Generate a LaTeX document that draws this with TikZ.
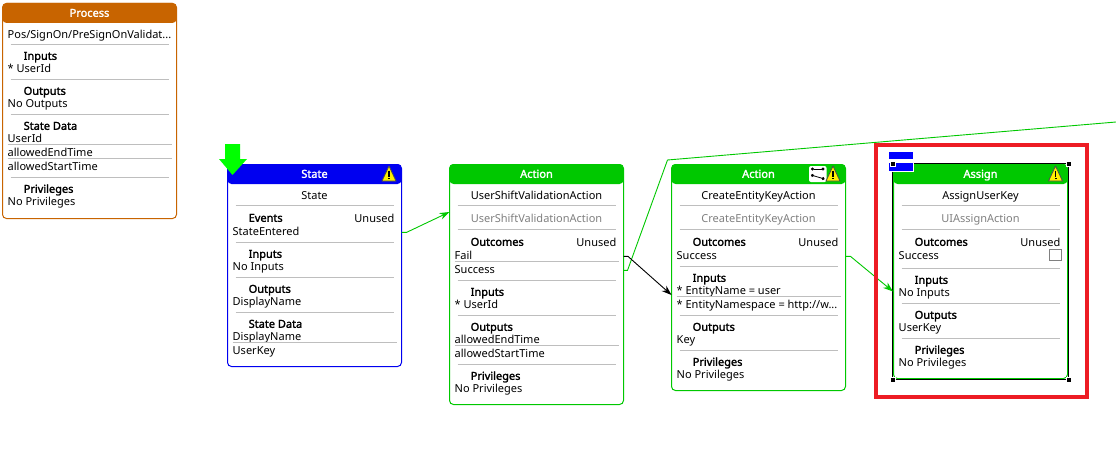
\documentclass[tikz,border=0pt]{standalone}
\usepackage{fontspec}
\setmainfont{Noto Sans}[BoldFont={Noto Sans},BoldFeatures={FakeBold=2}]
\usetikzlibrary{arrows.meta,positioning}
\definecolor{procorange}{RGB}{200,100,0}
\definecolor{stateblue}{RGB}{0,0,240}
\definecolor{actgreen}{RGB}{0,200,0}
\definecolor{rowgrey}{RGB}{190,190,190}
\definecolor{warnyellow}{RGB}{255,240,0}
\definecolor{markred}{RGB}{237,28,36}
\tikzset{
  rowtext/.style={anchor=west,inner sep=0pt,yshift=-1.4pt,font=\fontsize{11}{12}\selectfont,text height=8pt,text depth=2pt},
  boldtext/.style={rowtext,yshift=0.6pt,font=\fontsize{11}{12}\selectfont\bfseries},
  midtext/.style={rowtext,anchor=center},
  righttext/.style={rowtext,anchor=east},
  greytext/.style={midtext,text=gray},
  titletext/.style={midtext,yshift=0.6pt,text=white,font=\fontsize{11}{12}\selectfont\bfseries},
  rowline/.style={rowgrey,line width=1pt},
  cardframe/.style={draw,line width=1pt,rounded corners=4pt,inner sep=0pt,outer sep=0pt,anchor=north west,minimum width=174pt},
  flow/.style={line width=0.9pt,-{Stealth[length=10pt,width=7pt]}},
  warnmark/.pic={
    \fill[warnyellow,draw=black!70,line width=0.8pt,line join=round] (-7,7) -- (0,-8) -- (7,7) -- cycle;
    \draw[black,line width=1.6pt] (0,-3.5) -- (0,2.5);
    \fill[black] (-1,3.5) rectangle (1,5.4);
  }
}
% one card: name, colour, top, bottom, title
\newcommand{\cardbox}[5]{%
  \fill[#2,rounded corners=4pt] (0,#3+20) -- (0,#3) -- (174,#3) -- (174,#3+20) -- cycle;
  \node[cardframe,draw=#2,minimum height=#4pt-#3pt] (#1Box) at (0,#3+0.5) {};
  \node[titletext] (#1Title) at (87,#3+10) {#5};
}
\begin{document}
\begin{tikzpicture}[x=1pt,y=-1pt]
\useasboundingbox[fill=white] (0,0) rectangle (1116,452);

% process
\begin{scope}[xshift=2.5pt]
\cardbox{proc}{procorange}{3}{218}{Process}
\node[rowtext] (procName) at (5,34) {Pos/SignOn/PreSignOnValidat...};
\node[boldtext] (procInHead) at (21,56) {Inputs};
\node[rowtext] (procIn) at (5,68) {* UserId};
\node[boldtext] (procOutHead) at (21,91) {Outputs};
\node[rowtext] (procOut) at (5,103) {No Outputs};
\node[boldtext] (procDataHead) at (21,126) {State Data};
\node[rowtext] (procDataA) at (5,138) {UserId};
\node[rowtext] (procDataB) at (5,152) {allowedEndTime};
\node[rowtext] (procDataC) at (5,166) {allowedStartTime};
\node[boldtext] (procPrivHead) at (21,189) {Privileges};
\node[rowtext] (procPriv) at (5,201) {No Privileges};
\foreach \y in {44.5,79.5,114.5,177.5} \draw[rowline] (8,\y) -- (166,\y);
\foreach \y in {144.5,158.5} \draw[rowline] (5,\y) -- (169,\y);
\end{scope}

% state
\begin{scope}[xshift=227.5pt]
\cardbox{state}{stateblue}{164}{366}{State}
\pic at (161.5,174) {warnmark};
\node[midtext] (stateName) at (87,195) {State};
\node[boldtext] (stateEvHead) at (21,218) {Events};
\node[righttext] (stateUnused) at (167,218) {Unused};
\node[rowtext] (stateEntered) at (5,231) {StateEntered};
\node[boldtext] (stateInHead) at (21,254) {Inputs};
\node[rowtext] (stateIn) at (5,266) {No Inputs};
\node[boldtext] (stateOutHead) at (21,289) {Outputs};
\node[rowtext] (stateOut) at (5,301) {DisplayName};
\node[boldtext] (stateDataHead) at (21,324) {State Data};
\node[rowtext] (stateDataA) at (5,336) {DisplayName};
\node[rowtext] (stateDataB) at (5,350) {UserKey};
\foreach \y in {205.5,242.5,277.5,312.5} \draw[rowline] (8,\y) -- (166,\y);
\draw[rowline] (5,342.5) -- (169,342.5);
\end{scope}
\fill[green] (225,144) -- (240,144) -- (240,159) -- (247,159) -- (232.5,175) -- (219,159) -- (225,159) -- cycle;

% first action
\begin{scope}[xshift=449.5pt]
\cardbox{check}{actgreen}{164}{404}{Action}
\node[midtext] (checkName) at (87,195) {UserShiftValidationAction};
\node[greytext] (checkType) at (87,218) {UserShiftValidationAction};
\node[boldtext] (checkOcHead) at (21,242) {Outcomes};
\node[righttext] (checkUnused) at (167,242) {Unused};
\node[rowtext] (checkFail) at (5,255) {Fail};
\node[rowtext] (checkOk) at (5,269) {Success};
\node[boldtext] (checkInHead) at (21,292) {Inputs};
\node[rowtext] (checkIn) at (5,304) {* UserId};
\node[boldtext] (checkOutHead) at (21,327) {Outputs};
\node[rowtext] (checkOutA) at (5,339) {allowedEndTime};
\node[rowtext] (checkOutB) at (5,353) {allowedStartTime};
\node[boldtext] (checkPrivHead) at (21,376) {Privileges};
\node[rowtext] (checkPriv) at (5,388) {No Privileges};
\foreach \y in {205.5,229.5,280.5,315.5,364.5} \draw[rowline] (8,\y) -- (166,\y);
\foreach \y in {261.5,345.5} \draw[rowline] (5,\y) -- (169,\y);
\coordinate (checkEntry) at (0,212);
\end{scope}

% second action
\begin{scope}[xshift=671.5pt]
\cardbox{key}{actgreen}{164}{390}{Action}
\fill[white,rounded corners=2pt] (137.5,166) rectangle (155,182);
\draw[line width=0.8pt,{Circle[length=3pt]}-{Circle[length=3pt]}] (139.5,169) -- (153,169);
\draw[line width=0.8pt,{Circle[length=3pt]}-{Circle[length=3pt]}] (139.5,175) -- (153,179);
\pic at (161.5,174) {warnmark};
\node[midtext] (keyName) at (87,195) {CreateEntityKeyAction};
\node[greytext] (keyType) at (87,218) {CreateEntityKeyAction};
\node[boldtext] (keyOcHead) at (21,242) {Outcomes};
\node[righttext] (keyUnused) at (167,242) {Unused};
\node[rowtext] (keyOk) at (5,255) {Success};
\node[boldtext] (keyInHead) at (21,278) {Inputs};
\node[rowtext] (keyInA) at (5,290) {* EntityName = user};
\node[rowtext] (keyInB) at (5,304) {* EntityNamespace = http://w...};
\node[boldtext] (keyOutHead) at (21,327) {Outputs};
\node[rowtext] (keyOut) at (5,339) {Key};
\node[boldtext] (keyPrivHead) at (21,362) {Privileges};
\node[rowtext] (keyPriv) at (5,374) {No Privileges};
\foreach \y in {205.5,229.5,266.5,315.5,350.5} \draw[rowline] (8,\y) -- (166,\y);
\draw[rowline] (5,296.5) -- (169,296.5);
\coordinate (keyEntry) at (0,295);
\end{scope}

% assign
\begin{scope}[xshift=893.5pt]
\cardbox{assign}{actgreen}{164}{378}{Assign}
\draw[black,line width=1pt] (-1,163.5) rectangle (175,379.5);
\fill[blue] (-4.5,152) rectangle (19.5,159);
\fill[blue] (-4.5,163) rectangle (19.5,171);
\draw[white,line width=1pt] (-4.5,171.5) -- (20,171.5) -- (20,163);
\pic at (162,174) {warnmark};
\node[midtext] (assignName) at (87,195) {AssignUserKey};
\node[greytext] (assignType) at (87,218) {UIAssignAction};
\node[boldtext] (assignOcHead) at (21,242) {Outcomes};
\node[righttext] (assignUnused) at (167,242) {Unused};
\node[rowtext] (assignOk) at (5,255) {Success};
\draw[gray,fill=white,line width=0.8pt] (156,249.5) rectangle (167.5,260.5);
\node[boldtext] (assignInHead) at (21,280) {Inputs};
\node[rowtext] (assignIn) at (5,292) {No Inputs};
\node[boldtext] (assignOutHead) at (21,315) {Outputs};
\node[rowtext] (assignOut) at (5,327) {UserKey};
\node[boldtext] (assignPrivHead) at (21,350) {Privileges};
\node[rowtext] (assignPriv) at (5,362) {No Privileges};
\foreach \y in {205.5,229.5,268.5,303.5,338.5} \draw[rowline] (8,\y) -- (166,\y);
\foreach \x/\y in {-1/163.5,175/163.5,-1/379.5,175/379.5}
  \fill[black,draw=white,line width=0.6pt] (\x-2.5,\y-2.5) rectangle (\x+2.5,\y+2.5);
\coordinate (assignEntry) at (-0.5,291.5);
\end{scope}

% connectors
\coordinate (farEnd) at (1116,122);
\draw[flow,actgreen] (stateBox.east |- stateEntered) -- ++(5,0) -- (checkEntry);
\draw[actgreen,line width=0.9pt] (checkBox.east |- checkOk) -- ++(4,0) -- (667.5,160) -- (farEnd);
\draw[flow,black] (checkBox.east |- checkFail) -- ++(4.5,0) -- (keyEntry);
\draw[flow,actgreen] (keyBox.east |- keyOk) -- ++(5,0) -- (assignEntry);

\draw[markred,line width=4pt] (876,145) rectangle (1087,397);
\end{tikzpicture}
\end{document}
